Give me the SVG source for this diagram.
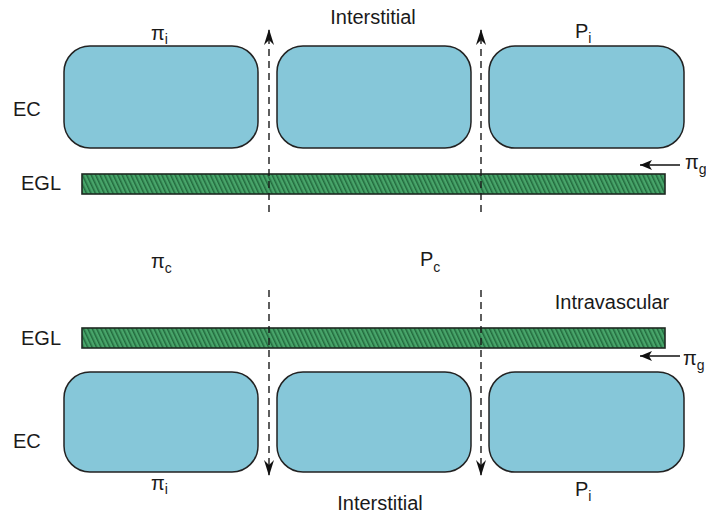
<svg xmlns="http://www.w3.org/2000/svg" width="706" height="516" viewBox="0 0 706 516">
  <defs>
    <pattern id="hatch" patternUnits="userSpaceOnUse" width="4" height="4" patternTransform="rotate(-25)">
      <rect width="4" height="4" fill="#48a56a"/>
      <rect width="1.5" height="4" fill="#226a3d"/>
    </pattern>
    <!-- arrowheads drawn along +x so orient="auto" follows the line -->
    <marker id="flowHead" viewBox="0 0 16 10" refX="15" refY="5" markerWidth="16" markerHeight="10" markerUnits="userSpaceOnUse" orient="auto">
      <path d="M0,0 L16,5 L0,10 L5,5 Z" fill="#111"/>
    </marker>
    <marker id="arrow" viewBox="0 0 12 10" refX="12" refY="5" markerWidth="12" markerHeight="10" markerUnits="userSpaceOnUse" orient="auto">
      <path d="M0,0 L12,5 L0,10 L3,5 Z" fill="#111"/>
    </marker>
  </defs>
  <style>
    .cell { fill: #86c7d9; stroke: #222; stroke-width: 1.5; }
    .egl { fill: url(#hatch); stroke: #1e2a22; stroke-width: 1.6; }
    .flow { stroke: #1a1a1a; stroke-width: 1.4; stroke-dasharray: 7 5; fill: none; }
    .arr { stroke: #111; stroke-width: 1.5; fill: none; }
    text { font-family: "Liberation Sans", Arial, sans-serif; font-size: 20px; fill: #1a1a1a; }
    .sub { font-size: 14px; }
  </style>

  <rect width="706" height="516" fill="#fff"/>

  <!-- upper wall: interstitial side on top -->
  <g id="top-cell-1"><rect class="cell" x="64" y="46" width="194" height="102" rx="26"/></g>
  <g id="top-cell-2"><rect class="cell" x="277" y="46" width="194" height="102" rx="26"/></g>
  <g id="top-cell-3"><rect class="cell" x="489" y="46" width="195" height="102" rx="26"/></g>
  <g id="top-egl"><rect class="egl" x="82" y="174" width="583" height="20"/></g>

  <!-- lower wall: interstitial side at bottom -->
  <g id="bottom-egl"><rect class="egl" x="82" y="328" width="583" height="20"/></g>
  <g id="bottom-cell-1"><rect class="cell" x="64" y="372" width="194" height="100" rx="26"/></g>
  <g id="bottom-cell-2"><rect class="cell" x="277" y="372" width="194" height="100" rx="26"/></g>
  <g id="bottom-cell-3"><rect class="cell" x="489" y="372" width="195" height="100" rx="26"/></g>

  <!-- connectors: filtration paths through the clefts and glycocalyx pressure -->
  <g id="connectors">
    <line class="flow" x1="269" y1="212" x2="269" y2="30" marker-end="url(#flowHead)"/>
    <line class="flow" x1="481" y1="212" x2="481" y2="30" marker-end="url(#flowHead)"/>
    <line class="flow" x1="269" y1="290" x2="269" y2="475" marker-end="url(#flowHead)"/>
    <line class="flow" x1="481" y1="290" x2="481" y2="475" marker-end="url(#flowHead)"/>
    <line class="arr" x1="680" y1="165" x2="640" y2="165" marker-end="url(#arrow)"/>
    <line class="arr" x1="680" y1="356" x2="640" y2="356" marker-end="url(#arrow)"/>
  </g>

  <!-- labels -->
  <g id="labels">
    <text x="373" y="24" text-anchor="middle">Interstitial</text>
    <text x="151" y="40">π<tspan class="sub" dy="4">i</tspan></text>
    <text x="575" y="38">P<tspan class="sub" dy="5">i</tspan></text>
    <text x="13" y="116">EC</text>
    <text x="21" y="190">EGL</text>
    <text x="685" y="169">π<tspan class="sub" dy="5">g</tspan></text>
    <text x="151" y="268">π<tspan class="sub" dy="5">c</tspan></text>
    <text x="420" y="266">P<tspan class="sub" dy="6">c</tspan></text>
    <text x="612" y="309" text-anchor="middle">Intravascular</text>
    <text x="21" y="345">EGL</text>
    <text x="683" y="365">π<tspan class="sub" dy="5">g</tspan></text>
    <text x="13" y="448">EC</text>
    <text x="151" y="490">π<tspan class="sub" dy="4">i</tspan></text>
    <text x="380" y="510" text-anchor="middle">Interstitial</text>
    <text x="575" y="496">P<tspan class="sub" dy="5">i</tspan></text>
  </g>
</svg>
